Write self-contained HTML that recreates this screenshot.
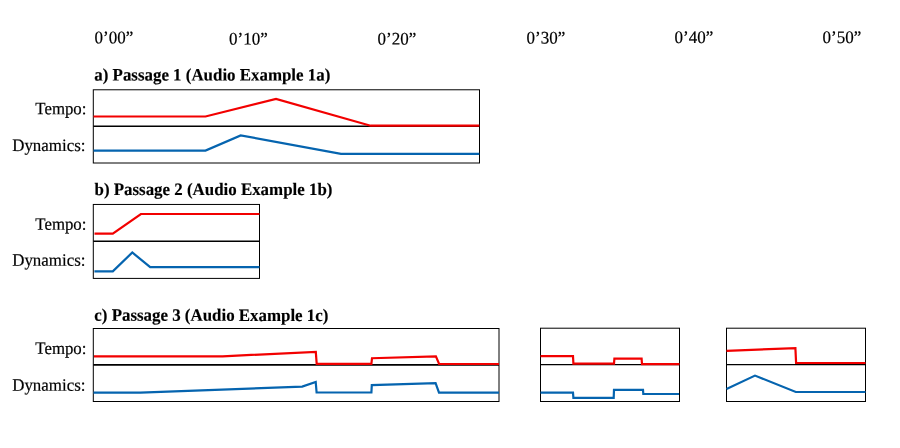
<!DOCTYPE html>
<html><head><meta charset="utf-8">
<style>
html,body{margin:0;padding:0;background:#fff;width:900px;height:448px;overflow:hidden}
svg{display:block;will-change:transform}
text{font-family:"Liberation Serif",serif;fill:#000;text-rendering:geometricPrecision;stroke:#000;stroke-width:0.2}
.h{font-weight:bold;stroke-width:0.15}
.bx{fill:none;stroke:#000;stroke-width:1}
.mid{stroke:#000}
.r{fill:none;stroke:#f20000;stroke-width:2.2;stroke-linejoin:miter}
.b{fill:none;stroke:#0564af;stroke-width:2.2;stroke-linejoin:miter}
</style></head>
<body>
<svg width="900" height="448" viewBox="0 0 900 448">
<text class="t" transform="translate(94.5 43.2) rotate(0.03) scale(1 1.035)" style="font-size:17px">0’00”</text>
<text class="t" transform="translate(229.0 44.45) rotate(0.03) scale(1 1.035)" style="font-size:17px">0’10”</text>
<text class="t" transform="translate(377.6 44.5) rotate(0.03) scale(1 1.035)" style="font-size:17px">0’20”</text>
<text class="t" transform="translate(526.6 43.45) rotate(0.03) scale(1 1.035)" style="font-size:17px">0’30”</text>
<text class="t" transform="translate(674.6 43.1) rotate(0.03) scale(1 1.035)" style="font-size:17px">0’40”</text>
<text class="t" transform="translate(822.6 43.1) rotate(0.03) scale(1 1.035)" style="font-size:17px">0’50”</text>
<text class="h" transform="translate(94.3 80.4) rotate(0.03) scale(1 1.035)" style="font-size:16.9px">a) Passage 1 (Audio Example 1a)</text>
<text class="l" transform="translate(86.4 114.3) rotate(0.03) scale(1 1.035)" style="font-size:16.8px" text-anchor="end">Tempo:</text>
<text class="l" transform="translate(85.4 151.0) rotate(0.03) scale(1 1.035)" style="font-size:16.9px" text-anchor="end">Dynamics:</text>
<rect class="bx" x="93.3" y="89.78" width="386.2" height="73.22"/>
<line class="mid" x1="93.3" y1="126.25" x2="479.5" y2="126.25" stroke-width="1.45"/>
<polyline class="r" points="93.5,116.5 205.5,116.5 276,99.0 370.6,125.7 479.3,125.7"/>
<polyline class="b" points="93.5,150.6 205.5,150.6 240.7,135.4 341,153.9 479.3,153.9"/>
<text class="h" transform="translate(94.5 194.9) rotate(0.03) scale(1 1.035)" style="font-size:16.9px">b) Passage 2 (Audio Example 1b)</text>
<text class="l" transform="translate(86.4 229.7) rotate(0.03) scale(1 1.035)" style="font-size:16.8px" text-anchor="end">Tempo:</text>
<text class="l" transform="translate(85.4 265.8) rotate(0.03) scale(1 1.035)" style="font-size:16.9px" text-anchor="end">Dynamics:</text>
<rect class="bx" x="93.3" y="204.45" width="166.2" height="73.95"/>
<line class="mid" x1="93.3" y1="241.25" x2="259.5" y2="241.25" stroke-width="1.5"/>
<polyline class="r" points="94.5,233.6 112.8,233.6 140.9,214.0 259.5,214.0"/>
<polyline class="b" points="94.4,271.4 112.8,271.4 132.3,252.5 150.2,267.2 259.5,267.2"/>
<text class="h" transform="translate(94.3 320.8) rotate(0.03) scale(1 1.035)" style="font-size:16.9px">c) Passage 3 (Audio Example 1c)</text>
<text class="l" transform="translate(86.4 353.9) rotate(0.03) scale(1 1.035)" style="font-size:16.8px" text-anchor="end">Tempo:</text>
<text class="l" transform="translate(85.4 390.7) rotate(0.03) scale(1 1.035)" style="font-size:16.9px" text-anchor="end">Dynamics:</text>
<rect class="bx" x="93.3" y="328.5" width="405.7" height="73.0"/>
<line class="mid" x1="93.3" y1="364.94" x2="499.0" y2="364.94" stroke-width="1.72"/>
<polyline class="r" points="94.0,356.4 222.6,356.3 315.8,351.9 316.7,363.9 371.4,363.9 372,358.2 435.9,356.4 439.1,364.0 499,364.0"/>
<polyline class="b" points="93.5,392.6 140.4,392.6 302.2,386.6 315.7,381.9 316.6,392.5 371.4,392.5 371.8,385.1 435.6,383.2 439,392.7 499,392.7"/>
<rect class="bx" x="540.5" y="328.2" width="139.0" height="73.3"/>
<line class="mid" x1="540.5" y1="364.6" x2="679.5" y2="364.6" stroke-width="1.2"/>
<polyline class="r" points="540.5,356.1 573.0,356.1 573.4,363.6 614.0,363.6 614.4,358.5 641.6,358.7 642.0,364.1 679.5,364.1"/>
<polyline class="b" points="540.5,392.7 573.0,392.7 573.4,397.8 613.7,397.8 614.0,389.9 643.0,389.9 643.3,394.0 679,394.0"/>
<rect class="bx" x="726.5" y="328.2" width="139.0" height="73.3"/>
<line class="mid" x1="726.5" y1="364.6" x2="865.5" y2="364.6" stroke-width="1.2"/>
<polyline class="r" points="726.5,350.9 795.4,348.1 796.1,363.0 865.5,363.0"/>
<polyline class="b" points="726.5,389 755.0,375.6 795.8,392.0 865.5,392.0"/>
</svg>
</body></html>
